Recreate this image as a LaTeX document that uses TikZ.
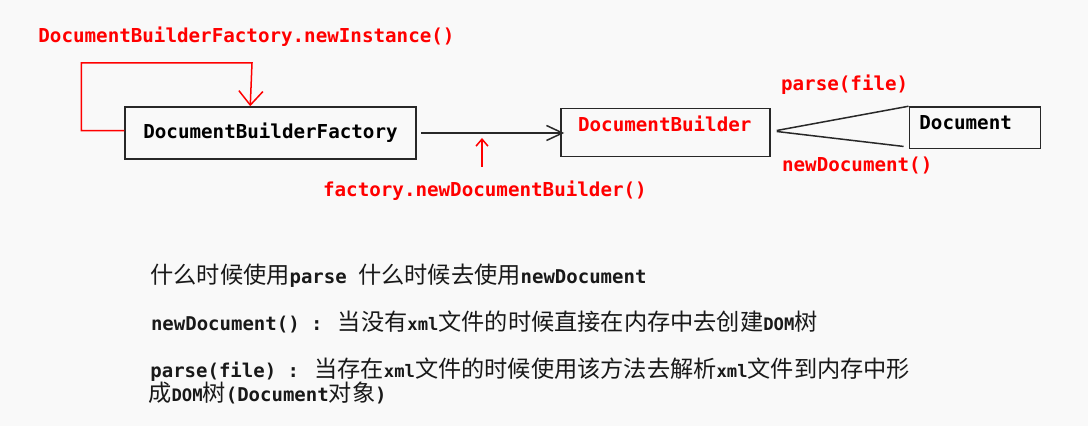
\documentclass[tikz,border=0pt]{standalone}
\usepackage{fontspec}
\newfontfamily\monofnt{DejaVu Sans Mono}
\newfontfamily\cjkfnt{Noto Sans CJK SC}
\usetikzlibrary{arrows.meta,calc}
\definecolor{bgc}{RGB}{249,249,249}
\definecolor{lnc}{RGB}{40,40,40}
\definecolor{rdc}{RGB}{255,0,0}
\newcommand{\zhtxt}[1]{{\cjkfnt\mdseries\fontsize{11.6}{14}\selectfont #1}}
\newcommand{\smtxt}[1]{{\fontsize{8.6}{10}\selectfont #1}}
\begin{document}
\begin{tikzpicture}[x=0.5pt,y=-0.5pt,
  box/.style={draw=lnc,line width=0.75pt,inner sep=0pt},
  code/.style={font=\monofnt\bfseries\fontsize{9.6}{11}\selectfont,inner sep=0pt,text=black},
  redcode/.style={code,text=rdc},
  note/.style={font=\monofnt\bfseries\fontsize{9.5}{11}\selectfont,inner sep=0pt,anchor=base west,text=black!90},
  conn/.style={draw=lnc,line width=0.75pt},
  redconn/.style={draw=rdc,line width=0.75pt}]
\fill[bgc] (0,0) rectangle (1088,426);
\useasboundingbox (0,0) rectangle (1088,426);

% boxes
\node[box,code,minimum width=145.5pt,minimum height=26pt] (f) at (270.5,133) {DocumentBuilderFactory};
\node[box,minimum width=104.5pt,minimum height=24pt] (b2) at (665.5,132.5) {};
\node[redcode,anchor=base west] (b2t) at (577.7,132) {DocumentBuilder};
\node[box,minimum width=65.7pt,minimum height=20.65pt] (b3) at (975,127.65) {};
\node[code,anchor=base west] (b3t) at (919,130) {Document};

% red labels
\node[redcode,anchor=base west] (ni) at (38,42.5) {DocumentBuilderFactory.newInstance()};
\node[redcode,anchor=base west] (nb) at (322.7,197) {factory.newDocumentBuilder()};
\node[redcode,anchor=base west] (pf) at (780.7,91) {parse(file)};
\node[redcode,anchor=base west] (nd) at (781.7,171.7) {newDocument()};

% self loop
\draw[redconn,-{Straight Barb[length=7pt,width=12pt]}]
  ([yshift=1.2pt]f.west) -- ++(-43,0) |- (252,63) -- ($(f.north west)+(126,0)$);

% factory -> builder
\draw[conn,-{Straight Barb[length=8pt,width=7.5pt]}]
  ([xshift=2.3pt]f.east) -- ($(b2.west |- f.east)+(4,0)$);

% red up arrow
\coordinate (ua) at (482,167);
\coordinate (ub) at (482,138);
\draw[redconn,-{Straight Barb[length=3.5pt,width=6pt]}] (ua) -- (ub);

% builder -> document
\coordinate (p) at ($(b2.east)+(6,-2)$);
\draw[conn] (p) -- (b3.north west);
\draw[conn] ($(p)+(0,1)$) -- ($(b3.south west)+(-5,-2.6)$);

% notes
\node[note] (l1) at (150,284) {\zhtxt{什么时候使用}parse \zhtxt{什么时候去使用}newDocument};
\node[note] (l2) at (150.6,331) {newDocument() : \zhtxt{当没有}\smtxt{xml}\zhtxt{文件的时候直接在内存中去创建}\smtxt{DOM}\zhtxt{树}};
\node[note] (l3) at (150,378) {parse(file) : \zhtxt{当存在}\smtxt{xml}\zhtxt{文件的时候使用该方法去解析}\smtxt{xml}\zhtxt{文件到内存中形}};
\node[note] (l4) at (148,402) {\zhtxt{成}\smtxt{DOM}\zhtxt{树}(Document\zhtxt{对象})};
\end{tikzpicture}
\end{document}
